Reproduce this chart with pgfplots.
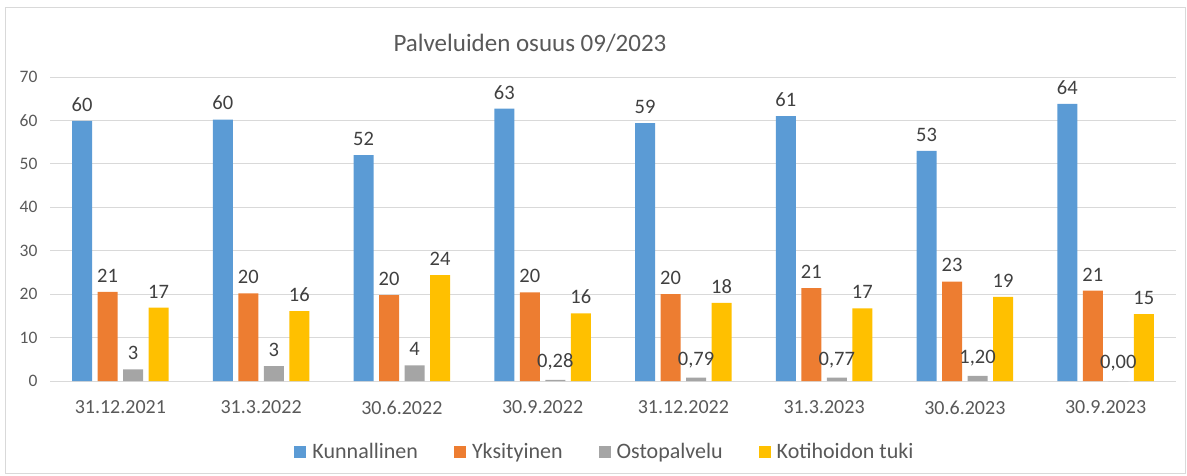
\documentclass[border=0pt]{standalone}
\usepackage{fontspec}
\setmainfont{Carlito}
\usepackage{pgfplots}
\pgfplotsset{compat=1.18}
\definecolor{kblue}{HTML}{5B9BD5}
\definecolor{korange}{HTML}{ED7D31}
\definecolor{kgray}{HTML}{A5A5A5}
\definecolor{kyellow}{HTML}{FFC000}
\definecolor{txtgray}{HTML}{595959}
\definecolor{lblgray}{HTML}{404040}
\definecolor{gridgray}{HTML}{D9D9D9}

\begin{document}
\begin{tikzpicture}[x=1pt,y=1pt]
\path[use as bounding box] (0,0) rectangle (1187,475);
\draw[gridgray, line width=1pt] (5,2) rectangle (1185,467);
\node[txtgray, font=\fontsize{25}{30}\selectfont] at (530,432) {Palveluiden osuus 09/2023};
\begin{axis}[
    at={(50pt,94pt)}, anchor=south west,
    scale only axis,
    width=1126pt, height=304pt,
    ybar=5.5pt,
    bar width=20pt,
    xmin=-0.5, xmax=7.5,
    ymin=0, ymax=70,
    ytick={0,10,...,70},
    xtick={0,...,7},
    xticklabels={31.12.2021,31.3.2022,30.6.2022,30.9.2022,31.12.2022,31.3.2023,30.6.2023,30.9.2023},
    axis line style={draw=none},
    major tick length=0pt,
    ymajorgrids,
    grid style={gridgray, line width=1pt},
    yticklabel style={font=\fontsize{17.5}{20}\selectfont, text=txtgray, xshift=-9pt},
    xticklabel style={font=\fontsize{20}{24}\selectfont, text=txtgray, yshift=-16pt},
    /pgf/number format/assume math mode=true,
    point meta=explicit symbolic,
    nodes near coords,
    every node near coord/.append style={font=\fontsize{20.5}{24}\selectfont, text=lblgray, yshift=6pt},
    legend style={draw=none, at={(0.5,0)}, anchor=center, xshift=-8pt, yshift=-71pt,
        font=\fontsize{22}{26}\selectfont, text=txtgray, legend columns=-1,
        column sep=0pt},
    legend image code/.code={\fill[#1] (0pt,-6pt) rectangle (12pt,6pt);
        \path (16pt,0pt);},
]
\addplot[fill=kblue, draw=none] coordinates {
    (0,59.9) [60] (1,60.2) [60] (2,52.0) [52] (3,62.7) [63]
    (4,59.4) [59] (5,61.0) [61] (6,53.0) [53] (7,63.8) [64]};
\addplot[fill=korange, draw=none] coordinates {
    (0,20.5) [21] (1,20.2) [20] (2,19.8) [20] (3,20.4) [20]
    (4,20.0) [20] (5,21.4) [21] (6,22.9) [23] (7,20.8) [21]};
\addplot[fill=kgray, draw=none] coordinates {
    (0,2.7) [3] (1,3.4) [3] (2,3.6) [4] (3,0.28) [0,28]
    (4,0.79) [0,79] (5,0.77) [0,77] (6,1.20) [1,20] (7,0) [0,00]};
\addplot[fill=kyellow, draw=none] coordinates {
    (0,16.9) [17] (1,16.1) [16] (2,24.4) [24] (3,15.6) [16]
    (4,18.0) [18] (5,16.7) [17] (6,19.4) [19] (7,15.4) [15]};
\legend{Kunnallinen\hspace*{34pt}, Yksityinen\hspace*{34pt}, Ostopalvelu\hspace*{34pt}, Kotihoidon tuki}
\end{axis}
\end{tikzpicture}
\end{document}
